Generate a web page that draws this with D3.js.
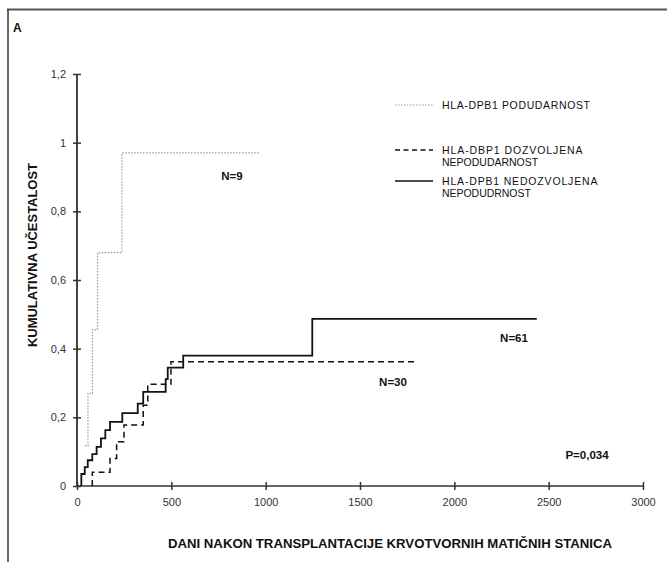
<!DOCTYPE html>
<html><head><meta charset="utf-8">
<script src="https://cdn.jsdelivr.net/npm/d3@7"></script>
<style>body{margin:0;background:#fff}svg{display:block}</style>
</head><body>
<script>
// ---- data ----
const xTicks = [0, 500, 1000, 1500, 2000, 2500, 3000];
const yTicks = [0, 0.2, 0.4, 0.6, 0.8, 1, 1.2];
const yTickLabels = ["0", "0,2", "0,4", "0,6", "0,8", "1", "1,2"];

const matchDays = [42, 58, 82, 109, 238, 965];
const matchVals = [0.117, 0.27, 0.455, 0.68, 0.97, 0.97];

const permDays = [81, 81, 175, 210, 249, 351, 375, 498, 1795];
const permVals = [0, 0.04, 0.08, 0.129, 0.178, 0.235, 0.296, 0.362, 0.362];

const nonPermDays = [23, 23, 41, 57, 81, 104, 127, 150, 175, 240, 322, 351, 470, 481, 563, 1247, 2437];
const nonPermVals = [0, 0.035, 0.055, 0.075, 0.093, 0.114, 0.139, 0.163, 0.187, 0.212, 0.24, 0.274, 0.311, 0.345, 0.38, 0.487, 0.487];

const legendLabels = [
  ["HLA-DPB1 PODUDARNOST"],
  ["HLA-DBP1 DOZVOLJENA", "NEPODUDARNOST"],
  ["HLA-DPB1 NEDOZVOLJENA", "NEPODUDRNOST"]
];
const nLabels = ["N=9", "N=30", "N=61"];
const pLabel = "P=0,034";

// ---- drawing ----
const W = 667, H = 562;
const svg = d3.select("body").append("svg").attr("width", W).attr("height", H);
const font = "Arial, 'Liberation Sans', sans-serif";
const narrow = "'Liberation Sans Narrow', 'Arial Narrow', Arial, 'Liberation Sans', sans-serif";

// frame
svg.append("line").attr("x1", 7).attr("x2", W).attr("y1", 9.5).attr("y2", 9.5).attr("stroke", "#555").attr("stroke-width", 2);
svg.append("line").attr("x1", 8).attr("x2", 8).attr("y1", 9).attr("y2", H).attr("stroke", "#333").attr("stroke-width", 1.5);

svg.append("text").attr("x", 13).attr("y", 32).text("A")
  .attr("font-family", font).attr("font-weight", "bold").attr("font-size", 12).attr("fill", "#111");

const x = d3.scaleLinear().domain([0, 3000]).range([77, 643]);
const y = d3.scaleLinear().domain([0, 1.2]).range([486, 74]);

// y axis
const gy = svg.append("g").attr("transform", "translate(77,0)")
  .call(d3.axisLeft(y).tickValues(yTicks).tickFormat((d, i) => yTickLabels[i]).tickSizeOuter(0).tickSizeInner(4).tickPadding(7));
gy.selectAll(".tick line").attr("x1", 4).attr("x2", -4).attr("stroke", "#333").attr("stroke-width", 1.5);
gy.select(".domain").attr("stroke", "#444").attr("stroke-width", 2).attr("d", `M0,${y(1.2)}V${y(0)}`);
gy.selectAll("text").attr("font-family", font).attr("font-size", 11).attr("fill", "#333");

// x axis
const gx = svg.append("g").attr("transform", "translate(0,486)")
  .call(d3.axisBottom(x).tickValues(xTicks).tickFormat(d3.format("d")).tickSizeOuter(0).tickSizeInner(4).tickPadding(8));
gx.selectAll(".tick line").attr("y1", -4).attr("y2", 4).attr("stroke", "#333").attr("stroke-width", 1.5);
gx.select(".domain").attr("stroke", "#333").attr("stroke-width", 1.5).attr("d", `M${x(0)},0H${x(3000)}`);
gx.selectAll("text").attr("font-family", font).attr("font-size", 11).attr("fill", "#333");

// axis titles
svg.append("text").attr("transform", "translate(37,255) rotate(-90)").attr("text-anchor", "middle")
  .attr("font-family", narrow).attr("font-weight", "bold").attr("font-size", 13).attr("fill", "#111")
  .attr("textLength", 184).attr("lengthAdjust", "spacingAndGlyphs")
  .text("KUMULATIVNA UČESTALOST");
svg.append("text").attr("x", 168).attr("y", 548)
  .attr("font-family", narrow).attr("font-weight", "bold").attr("font-size", 13).attr("fill", "#111")
  .attr("textLength", 444).attr("lengthAdjust", "spacingAndGlyphs")
  .text("DANI NAKON TRANSPLANTACIJE KRVOTVORNIH MATIČNIH STANICA");

// curves
const line = d3.line().x(d => x(d[0])).y(d => y(d[1])).curve(d3.curveStepAfter);
const series = [
  {days: matchDays, vals: matchVals, stroke: "#999", width: 1.2, dash: "1.5,1.5"},
  {days: permDays, vals: permVals, stroke: "#111", width: 1.5, dash: "6,4"},
  {days: nonPermDays, vals: nonPermVals, stroke: "#111", width: 1.8, dash: null}
];
series.forEach(s => {
  svg.append("path").datum(s.days.map((d, i) => [d, s.vals[i]]))
    .attr("d", line).attr("fill", "none").attr("stroke", s.stroke)
    .attr("stroke-width", s.width).attr("stroke-dasharray", s.dash);
});

// legend
const legY = [105, 150, 181];
series.forEach((s, i) => {
  svg.append("line").attr("x1", 395).attr("x2", 433).attr("y1", legY[i]).attr("y2", legY[i])
    .attr("stroke", s.stroke).attr("stroke-width", i === 0 ? 1.2 : 1.3).attr("stroke-dasharray", i === 1 ? "5,3.5" : s.dash);
  legendLabels[i].forEach((t, j) => {
    svg.append("text").attr("x", 442).attr("y", legY[i] + 4 + j * 11.5).text(t)
      .attr("font-family", font).attr("font-size", 10.5).attr("fill", "#111")
      .attr("textLength", t.length * 7.4).attr("lengthAdjust", "spacing");
  });
});

// N labels and P
const nPos = [[232, 176], [393, 382], [514, 338]];
nLabels.forEach((t, i) => {
  svg.append("text").attr("x", nPos[i][0]).attr("y", nPos[i][1] + 4).attr("text-anchor", "middle").text(t)
    .attr("font-family", font).attr("font-weight", "bold").attr("font-size", 11.5).attr("fill", "#111");
});
svg.append("text").attr("x", 587).attr("y", 459).attr("text-anchor", "middle").text(pLabel)
  .attr("font-family", font).attr("font-weight", "bold").attr("font-size", 11.5).attr("fill", "#111");
</script>
</body></html>
